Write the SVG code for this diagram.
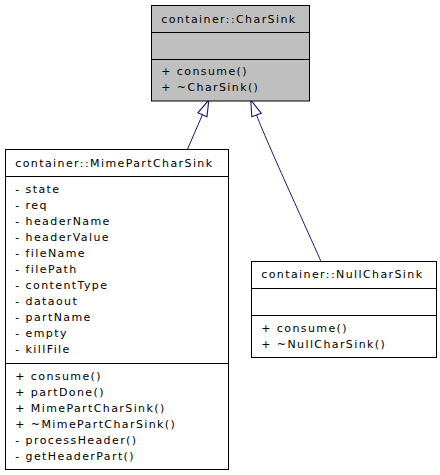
<svg xmlns="http://www.w3.org/2000/svg" width="440" height="475" viewBox="0 0 440 475">
<style>
text{font-family:"DejaVu Sans",sans-serif;font-size:11px;letter-spacing:1.4px;fill:#000}
.box{fill:#fff;stroke:#000;stroke-width:1}
.base{fill:#bfbfbf;stroke:#000;stroke-width:1}
.sep{stroke:#000;stroke-width:1}
.edge{fill:none;stroke:#191970;stroke-width:1;marker-end:url(#tri)}
</style>
<defs>
<marker id="tri" markerUnits="userSpaceOnUse" markerWidth="20" markerHeight="12" refX="0" refY="5" orient="auto" viewBox="-1 0 18 10">
<path d="M0,0.5 L14.5,5 L0,9.5 Z" fill="#fff" stroke="#191970" stroke-width="1"/>
</marker>
</defs>
<rect width="440" height="475" fill="#fff"/>
<g id="connectors">
<path class="edge" d="M187.3,149.7 L202.4,114.8"/>
<path class="edge" d="M321,261.7 C316,249 270,150 256.5,115"/>
</g>
<g id="CharSink">
<rect class="base" x="151.5" y="5.5" width="158" height="95.5"/>
<line class="sep" x1="151.5" y1="32.5" x2="309.5" y2="32.5"/>
<line class="sep" x1="151.5" y1="59.5" x2="309.5" y2="59.5"/>
<text x="161.3" y="22.7">container::CharSink</text>
<text x="161.3" y="75">+ consume()</text>
<text x="161.3" y="91">+ ~CharSink()</text>
</g>
<g id="MimePartCharSink">
<rect class="box" x="5.5" y="149.5" width="223" height="320"/>
<line class="sep" x1="5.5" y1="176.5" x2="228.5" y2="176.5"/>
<line class="sep" x1="5.5" y1="363.5" x2="228.5" y2="363.5"/>
<text x="15.3" y="167">container::MimePartCharSink</text>
<text x="15.3" y="192.7">- state</text>
<text x="15.3" y="208.7">- req</text>
<text x="15.3" y="224.7">- headerName</text>
<text x="15.3" y="240.7">- headerValue</text>
<text x="15.3" y="256.7">- fileName</text>
<text x="15.3" y="272.7">- filePath</text>
<text x="15.3" y="288.7">- contentType</text>
<text x="15.3" y="304.7">- dataout</text>
<text x="15.3" y="320.7">- partName</text>
<text x="15.3" y="336.7">- empty</text>
<text x="15.3" y="352.7">- killFile</text>
<text x="15.3" y="380">+ consume()</text>
<text x="15.3" y="396">+ partDone()</text>
<text x="15.3" y="412">+ MimePartCharSink()</text>
<text x="15.3" y="428">+ ~MimePartCharSink()</text>
<text x="15.3" y="444">- processHeader()</text>
<text x="15.3" y="460">- getHeaderPart()</text>
</g>
<g id="NullCharSink">
<rect class="box" x="251.5" y="261.5" width="185" height="96"/>
<line class="sep" x1="251.5" y1="288.5" x2="436.5" y2="288.5"/>
<line class="sep" x1="251.5" y1="315.5" x2="436.5" y2="315.5"/>
<text x="261.3" y="278.2">container::NullCharSink</text>
<text x="261.3" y="331.5">+ consume()</text>
<text x="261.3" y="347.5">+ ~NullCharSink()</text>
</g>
</svg>
